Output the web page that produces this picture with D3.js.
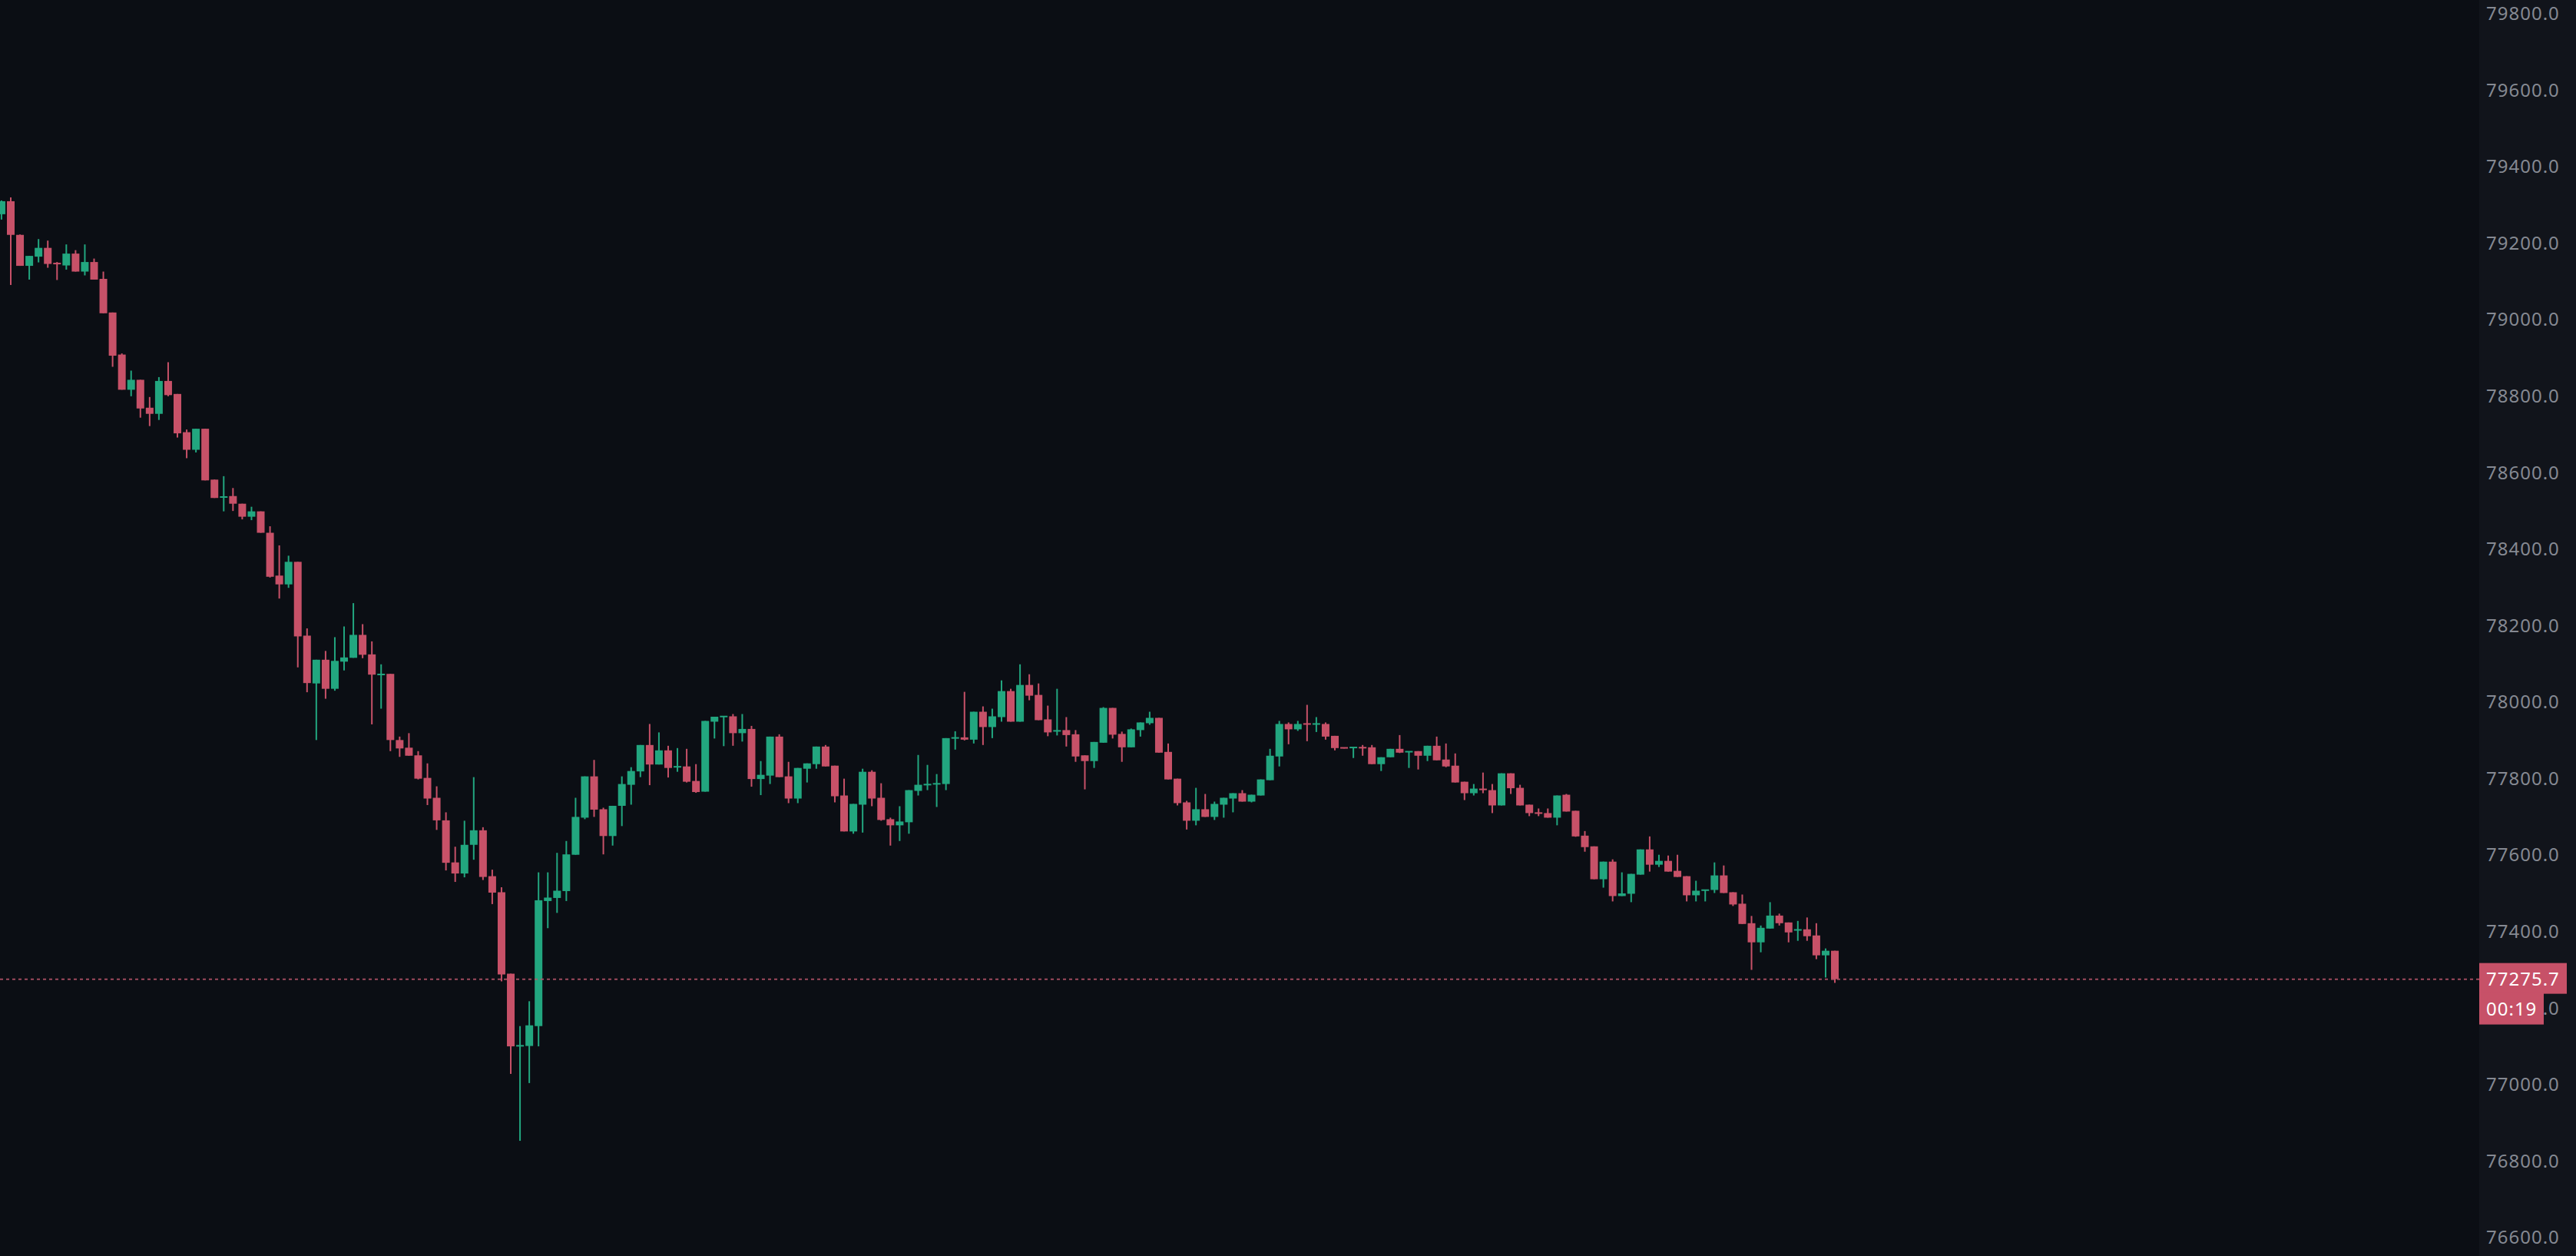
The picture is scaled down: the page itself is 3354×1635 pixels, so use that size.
<!DOCTYPE html>
<html>
<head>
<meta charset="utf-8">
<script src="https://cdn.jsdelivr.net/npm/d3@7/dist/d3.min.js"></script>
<style>
  html, body { margin: 0; padding: 0; background: #0b0e14; overflow: hidden; }
  svg { display: block; }
</style>
</head>
<body>
<svg id="chart" width="3354" height="1635"></svg>
<script>
// ---- data ----
const opens = [79276,79310,79222,79141,79165,79188,79148,79142,79173,79126,79151,79107,79019,78909,78817,78843,78770,78754,78840,78806,78706,78660,78715,78582,78536,78539,78519,78485,78499,78443,78331,78308,78367,78174,78049,78111,78035,78106,78116,78176,78125,78072,78074,77901,77881,77861,77802,77750,77691,77581,77552,77627,77665,77545,77503,77290,77101,77101,77153,77480,77488,77506,77601,77698,77806,77720,77650,77729,77784,77819,77888,77837,77874,77830,77832,77794,77766,77949,77962,77963,77919,77930,77799,77808,77910,77806,77748,77826,77838,77884,77834,77756,77662,77732,77818,77750,77694,77678,77686,77768,77784,77786,77786,77906,77908,77902,77975,77935,77961,78029,77949,78045,78019,77955,77924,77927,77916,77861,77846,77894,77985,77917,77882,77927,77945,77959,77870,77800,77738,77690,77720,77700,77732,77748,77762,77740,77756,77796,77858,77943,77929,77944,77942,77943,77912,77881,77881,77882,77882,77838,77856,77878,77870,77872,77860,77886,77850,77834,77792,77762,77774,77770,77730,77814,77776,77732,77711,77710,77698,77758,77716,77651,77623,77537,77583,77493,77499,77549,77615,77575,77585,77559,77545,77495,77508,77509,77547,77503,77473,77422,77372,77408,77442,77424,77404,77406,77390,77338,77350];
const highs = [79312,79320,79223,79167,79211,79207,79151,79197,79182,79197,79160,79126,79019,78912,78867,78843,78798,78850,78889,78806,78713,78715,78715,78582,78591,78560,78519,78511,78499,78460,78410,78383,78367,78193,78111,78134,78170,78198,78259,78204,78159,78099,78074,77910,77919,77872,77840,77780,77712,77622,77690,77804,77673,77562,77516,77290,77153,77218,77555,77555,77606,77637,77750,77806,77849,77724,77729,77806,77830,77888,77943,77921,77886,77880,77878,77838,77951,77962,77963,77969,77969,77938,77846,77910,77916,77844,77828,77840,77884,77888,77834,77800,77734,77826,77822,77788,77698,77728,77770,77862,77836,77812,77906,77924,78027,77975,77989,77983,78057,78035,78099,78073,78049,77991,78035,77961,77927,77861,77896,77987,77985,77923,77931,77947,77975,77959,77892,77800,77742,77776,77760,77740,77750,77762,77770,77758,77798,77878,77951,77947,77951,77993,77961,77947,77912,77881,77882,77888,77888,77856,77878,77914,77871,77872,77886,77910,77892,77866,77792,77786,77816,77786,77814,77814,77784,77732,77722,77722,77756,77760,77716,77663,77623,77583,77589,77555,77551,77615,77649,77601,77599,77601,77545,77533,77509,77581,77573,77503,77497,77441,77416,77477,77447,77424,77428,77437,77422,77356,77350];
const lows = [79262,79091,79141,79105,79150,79136,79104,79131,79126,79116,79105,79017,78877,78817,78800,78744,78722,78738,78800,78692,78638,78653,78580,78534,78499,78500,78478,78476,78443,78326,78271,78299,78091,78026,77901,78009,78030,78083,78116,78115,77942,77983,77872,77857,77860,77798,77731,77666,77560,77530,77542,77588,77535,77472,77270,77028,76853,77004,77100,77409,77449,77480,77601,77694,77700,77602,77625,77676,77732,77804,77783,77837,77803,77818,77790,77763,77766,77905,77885,77886,77897,77779,77757,77786,77804,77736,77736,77790,77826,77832,77738,77662,77656,77659,77728,77690,77625,77637,77656,77756,77770,77726,77770,77876,77900,77892,77888,77906,77949,77949,77949,78005,77953,77911,77913,77884,77844,77772,77828,77894,77905,77844,77882,77910,77941,77868,77798,77730,77667,77678,77700,77692,77698,77712,77740,77738,77756,77796,77832,77890,77925,77898,77922,77902,77874,77879,77854,77860,77838,77820,77856,77867,77828,77824,77846,77848,77830,77790,77744,77756,77762,77710,77730,77760,77730,77702,77702,77698,77678,77714,77648,77609,77537,77515,77479,77493,77477,77549,77557,77569,77557,77543,77479,77479,77479,77501,77501,77467,77420,77300,77346,77408,77416,77372,77376,77376,77328,77280,77266];
const closes = [79310,79222,79141,79167,79188,79146,79146,79173,79126,79151,79105,79017,78906,78817,78843,78768,78754,78840,78803,78703,78660,78715,78580,78534,78537,78519,78485,78499,78443,78328,78308,78367,78172,78050,78111,78035,78108,78117,78176,78124,78072,78073,77901,77879,77860,77800,77748,77691,77580,77552,77627,77665,77543,77502,77288,77100,77102,77155,77482,77489,77507,77602,77700,77806,77719,77650,77729,77786,77820,77888,77837,77874,77828,77832,77792,77765,77951,77962,77963,77919,77930,77799,77810,77910,77804,77748,77828,77840,77884,77832,77754,77662,77734,77818,77748,77692,77678,77688,77770,77784,77785,77787,77906,77907,77902,77975,77935,77963,78029,77949,78045,78017,77953,77921,77926,77914,77858,77846,77896,77985,77915,77882,77929,77947,77959,77868,77798,77736,77690,77720,77700,77734,77750,77762,77740,77758,77798,77860,77943,77929,77943,77942,77944,77910,77880,77880,77882,77880,77838,77856,77878,77868,77871,77860,77886,77848,77832,77790,77762,77774,77770,77730,77814,77775,77730,77710,77709,77698,77756,77714,77649,77621,77537,77583,77493,77500,77551,77615,77575,77585,77557,77543,77495,77507,77509,77547,77501,77471,77420,77372,77410,77442,77422,77398,77405,77388,77338,77350,77275.7];
const priceTicks = [76600,76800,77000,77200,77400,77600,77800,78000,78200,78400,78600,78800,79000,79200,79400,79600,79800];
const lastPriceLabel = "77275.7";
const countdownLabel = "00:19";

// ---- layout / style ----
const W = 3354, H = 1635;
const plotRight = 3228;
const barSpacing = 12.056;
const COLORS = { bg: "#0b0e14", axisBg: "#11141b", up: "#22a67f", down: "#c75168", tick: "#858992", line: "#b9566b" };

const data = opens.map((o, i) => ({ i, o, h: highs[i], l: lows[i], c: closes[i] }));
const n = data.length;

const x = d3.scaleLinear().domain([0, n - 1]).range([1.94, 1.94 + (n - 1) * barSpacing]);
const y = d3.scaleLinear().domain([76600, 79800]).range([1611, 18]);

const svg = d3.select("#chart");
svg.append("rect").attr("width", W).attr("height", H).attr("fill", COLORS.bg);
svg.append("rect").attr("x", plotRight).attr("width", W - plotRight).attr("height", H).attr("fill", COLORS.axisBg);

svg.append("clipPath").attr("id", "plotclip").append("rect").attr("width", plotRight).attr("height", H);
const plot = svg.append("g").attr("clip-path", "url(#plotclip)");

const bodyW = 10, wickW = 2;
const col = d => d.c >= d.o ? COLORS.up : COLORS.down;

const candles = plot.selectAll("g.candle").data(data).join("g").attr("class", "candle");
candles.append("rect")
  .attr("x", d => x(d.i) - wickW / 2)
  .attr("width", wickW)
  .attr("y", d => y(d.h))
  .attr("height", d => Math.max(1, y(d.l) - y(d.h)))
  .attr("fill", col);
candles.append("rect")
  .attr("x", d => x(d.i) - bodyW / 2)
  .attr("width", bodyW)
  .attr("y", d => {
    const top = y(Math.max(d.o, d.c)), bot = y(Math.min(d.o, d.c));
    return bot - top < 2 ? (top + bot) / 2 - 1 : top;
  })
  .attr("height", d => Math.max(2, y(Math.min(d.o, d.c)) - y(Math.max(d.o, d.c))))
  .attr("fill", col);

// last price dashed line
const last = closes[n - 1];
svg.append("line")
  .attr("x1", 0).attr("x2", plotRight)
  .attr("y1", y(last)).attr("y2", y(last))
  .attr("stroke", COLORS.line).attr("stroke-width", 2)
  .attr("stroke-dasharray", "4 4").attr("opacity", 0.85);

// price axis
const axis = d3.axisRight(y).tickValues(priceTicks).tickFormat(d => d.toFixed(1)).tickSize(0).tickPadding(9);
const ax = svg.append("g").attr("transform", `translate(${plotRight},0)`).call(axis);
ax.select(".domain").remove();
ax.selectAll("text")
  .attr("fill", COLORS.tick)
  .style("font-family", "'Noto Sans', 'Open Sans', sans-serif")
  .style("font-size", "24px")
  .style("letter-spacing", "1px");

// last price label + countdown
const ly = y(last);
const lbl = svg.append("g");
lbl.append("rect").attr("x", plotRight).attr("y", ly - 21).attr("width", 114).attr("height", 40).attr("fill", COLORS.down);
lbl.append("rect").attr("x", plotRight).attr("y", ly + 18).attr("width", 84).attr("height", 41).attr("fill", COLORS.down);
lbl.append("text").attr("x", plotRight + 9).attr("y", ly).attr("dy", "0.36em")
  .attr("fill", "#ffffff").style("font-family", "'Noto Sans', sans-serif").style("font-size", "24px").style("letter-spacing", "1px")
  .text(lastPriceLabel);
lbl.append("text").attr("x", plotRight + 9).attr("y", ly + 39).attr("dy", "0.36em")
  .attr("fill", "#ffffff").style("font-family", "'Noto Sans', sans-serif").style("font-size", "24px").style("letter-spacing", "1px")
  .text(countdownLabel);
</script>
</body>
</html>
